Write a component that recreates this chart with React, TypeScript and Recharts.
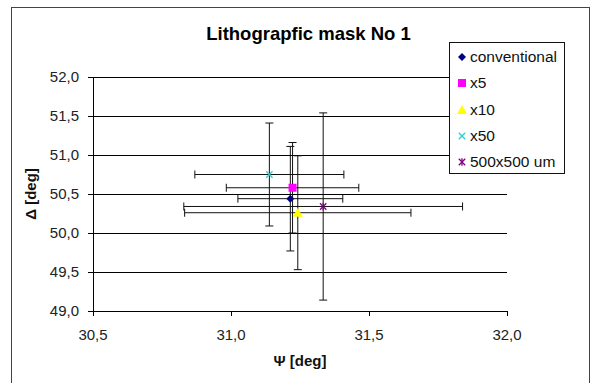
import { CartesianGrid, ErrorBar, Scatter, ScatterChart, XAxis, YAxis } from 'recharts';

const SERIES_NAMES = ['conventional', 'x5', 'x10', 'x50', '500x500 um'];
const PSI = [31.215, 31.223, 31.242, 31.139, 31.334];
const DELTA = [50.44, 50.58, 50.26, 50.75, 50.34];
const PSI_ERR = [0.19, 0.24, 0.41, 0.27, 0.505];
const DELTA_ERR = [0.67, 0.58, 0.73, 0.66, 1.2];

const X_TICKS = [30.5, 31.0, 31.5, 32.0];
const Y_TICKS = [49.0, 49.5, 50.0, 50.5, 51.0, 51.5, 52.0];

const MARKERS = ['diamond', 'square', 'triangle', 'cross', 'star'];
const COLORS = ['#000080', '#ff00ff', '#ffff00', '#33cccc', '#800080'];

const comma = (v: number) => v.toFixed(1).replace('.', ',');

const Marker = ({ kind, color, cx, cy }: { kind: string; color: string; cx: number; cy: number }) => {
  if (kind === 'diamond') {
    return <polygon points={`${cx},${cy - 4} ${cx + 4},${cy} ${cx},${cy + 4} ${cx - 4},${cy}`} fill={color} />;
  }
  if (kind === 'square') {
    return <rect x={cx - 4} y={cy - 4} width={8} height={8} fill={color} />;
  }
  if (kind === 'triangle') {
    return <polygon points={`${cx},${cy - 5} ${cx + 5},${cy + 4} ${cx - 5},${cy + 4}`} fill={color} />;
  }
  const r = 3.2;
  return (
    <g stroke={color} strokeWidth={1.3}>
      <line x1={cx - r} y1={cy - r} x2={cx + r} y2={cy + r} />
      <line x1={cx - r} y1={cy + r} x2={cx + r} y2={cy - r} />
      {kind === 'star' && <line x1={cx} y1={cy - r - 0.5} x2={cx} y2={cy + r + 0.5} />}
    </g>
  );
};

const seriesData = SERIES_NAMES.map((name, i) => ({
  name,
  points: [{ psi: PSI[i], delta: DELTA[i], ex: PSI_ERR[i], ey: DELTA_ERR[i] }],
}));

export default function App() {
  return (
    <div
      style={{
        position: 'absolute',
        left: 0,
        top: 0,
        width: 600,
        height: 383,
        overflow: 'hidden',
        background: '#fff',
        fontFamily: '"Liberation Sans", Arial, sans-serif',
      }}
    >
      <div
        style={{
          position: 'absolute',
          left: 11,
          top: 7,
          width: 577,
          height: 400,
          border: '1px solid #444',
        }}
      />
      <div
        style={{
          position: 'absolute',
          left: 200,
          width: 217,
          top: 25,
          textAlign: 'center',
          fontSize: 18.5,
          lineHeight: '18px',
          fontWeight: 'bold',
          color: '#000',
          whiteSpace: 'nowrap',
        }}
      >
        Lithograpfic mask No 1
      </div>
      <div style={{ position: 'absolute', left: 0, top: 0 }}>
        <ScatterChart width={600} height={383} margin={{ top: 77, right: 93, bottom: 32, left: 31 }}>
          <CartesianGrid vertical={false} stroke="#000" strokeOpacity={1} shapeRendering="crispEdges" />
          <XAxis
            type="number"
            dataKey="psi"
            domain={[30.5, 32]}
            ticks={X_TICKS}
            interval={0}
            height={40}
            tickFormatter={comma}
            tickSize={5}
            tickMargin={13}
            stroke="#000"
            shapeRendering="crispEdges"
            tick={{ fontSize: 15, fill: '#222' }}
            label={{ value: 'Ψ [deg]', position: 'bottom', offset: 4, fontSize: 15, fontWeight: 'bold', fill: '#111' }}
          />
          <YAxis
            type="number"
            dataKey="delta"
            domain={[49, 52]}
            ticks={Y_TICKS}
            interval={0}
            width={62}
            tickFormatter={comma}
            tickSize={5}
            tickMargin={9}
            stroke="#000"
            shapeRendering="crispEdges"
            tick={{ fontSize: 15, fill: '#222' }}
            label={{
              value: 'Δ [deg]',
              angle: -90,
              position: 'insideLeft',
              offset: 0,
              fontSize: 15,
              fontWeight: 'bold',
              fill: '#111',
              style: { textAnchor: 'middle' },
            }}
          />
          {seriesData.map((s, i) => (
            <Scatter
              key={s.name}
              name={s.name}
              data={s.points}
              isAnimationActive={false}
              shape={(p: any) => <Marker kind={MARKERS[i]} color={COLORS[i]} cx={p.cx} cy={p.cy} />}
            >
              <ErrorBar dataKey="ey" direction="y" width={4} stroke="#111" strokeWidth={1} />
              <ErrorBar dataKey="ex" direction="x" width={4} stroke="#111" strokeWidth={1} />
            </Scatter>
          ))}
        </ScatterChart>
      </div>
      <div
        style={{
          position: 'absolute',
          left: 449,
          top: 42,
          width: 114,
          height: 129,
          border: '1px solid #111',
          background: '#fff',
          paddingTop: 1,
          boxSizing: 'content-box',
        }}
      >
        {SERIES_NAMES.map((name, i) => (
          <div key={name} style={{ display: 'flex', alignItems: 'center', height: 26.3 }}>
            <svg width={10} height={10} style={{ marginLeft: 7, flex: 'none' }}>
              <Marker kind={MARKERS[i]} color={COLORS[i]} cx={5} cy={5} />
            </svg>
            <span style={{ marginLeft: 3, fontSize: 15.5, color: '#111', whiteSpace: 'nowrap' }}>{name}</span>
          </div>
        ))}
      </div>
    </div>
  );
}
